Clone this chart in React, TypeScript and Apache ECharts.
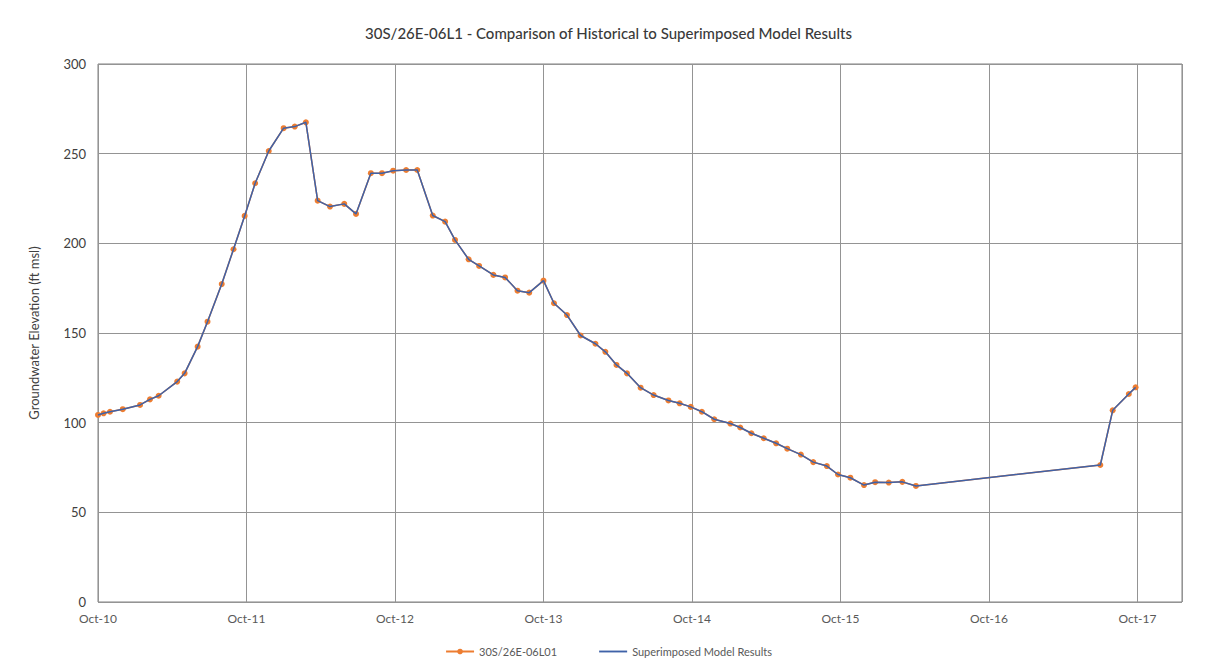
import React, { useEffect, useRef } from "react";
import * as echarts from "echarts";

// months since Oct-2010
const monthOffsets = [
  0, 0.45, 0.97, 2.0, 3.4, 4.2, 4.9, 6.4, 7.0, 8.05, 8.85, 10.0, 10.95, 11.85, 12.7, 13.8, 15.0, 15.9, 16.8,
  17.75, 18.75, 19.9, 20.85, 22.05, 22.95, 23.85, 24.9, 25.8, 27.05, 28.05, 28.85, 29.95, 30.8, 31.95, 32.9,
  33.9, 34.85, 36.0, 36.85, 37.9, 39.0, 40.2, 41.0, 41.9, 42.75, 43.85, 44.9, 46.1, 47.0, 47.9, 48.8, 49.8,
  51.1, 51.9, 52.8, 53.8, 54.8, 55.7, 56.8, 57.8, 58.9, 59.8, 60.8, 61.9, 62.8, 63.9, 65.0, 66.1, 81.0, 82.0,
  83.3, 83.85,
];

const historicalValues = [
  104.3, 105.2, 106.1, 107.5, 109.9, 113, 115, 122.9, 127.5, 142.4, 156.3, 177.3, 196.7, 215.3, 233.5, 251.5,
  264.2, 265.1, 267.5, 223.8, 220.5, 222, 216.4, 239.1, 239.1, 240.5, 240.9, 240.9, 215.5, 212.1, 201.9, 191.1,
  187.4, 182.4, 181, 173.6, 172.5, 179.2, 166.6, 160, 148.6, 144, 139.5, 132.2, 127.5, 119.5, 115.4, 112.4,
  110.8, 108.8, 106.1, 101.9, 99.5, 97.3, 94.1, 91.3, 88.5, 85.5, 82.2, 78, 75.8, 71.1, 69.3, 65.2, 66.8, 66.6,
  67, 64.7, 76.4, 106.9, 116, 119.7,
];

const modelValues = [
  104.3, 105.2, 106.1, 107.5, 109.9, 113, 115, 122.9, 127.5, 142.4, 156.3, 177.3, 196.7, 215.3, 233.5, 251.5,
  264.2, 265.1, 267.5, 223.8, 220.5, 222, 216.4, 239.1, 239.1, 240.5, 240.9, 240.9, 215.5, 212.1, 201.9, 191.1,
  187.4, 182.4, 181, 173.6, 172.5, 179.2, 166.6, 160, 148.6, 144, 139.5, 132.2, 127.5, 119.5, 115.4, 112.4,
  110.8, 108.8, 106.1, 101.9, 99.5, 97.3, 94.1, 91.3, 88.5, 85.5, 82.2, 78, 75.8, 71.1, 69.3, 65.2, 66.8, 66.6,
  67, 64.7, 76.4, 106.9, 116, 119.7,
];

const xTickLabels = ["Oct-10", "Oct-11", "Oct-12", "Oct-13", "Oct-14", "Oct-15", "Oct-16", "Oct-17"];

const FONT = "Lato, 'Noto Sans', sans-serif";

export default function App() {
  const ref = useRef<HTMLDivElement>(null);
  useEffect(() => {
    if (!ref.current) return;
    const chart = echarts.init(ref.current, null, { renderer: "svg" });
    const hist = monthOffsets.map((m, i) => [m, historicalValues[i]]);
    const model = monthOffsets.map((m, i) => [m, modelValues[i]]);
    chart.setOption({
      animation: false,
      backgroundColor: "#ffffff",
      textStyle: { fontFamily: FONT },
      title: {
        text: "30S/26E-06L1 - Comparison of Historical to Superimposed Model Results",
        left: "center",
        top: 20,
        textStyle: { fontFamily: FONT, fontSize: 15, fontWeight: 500, color: "#3a3a3a" },
      },
      graphic: [
        {
          type: "rect",
          shape: { x: 3.5, y: 5.5, width: 1210, height: 661 },
          style: { fill: "none", stroke: "#d9d9d9", lineWidth: 1 },
          silent: true,
        },
      ],
      legend: {
        bottom: 9,
        left: "center",
        itemWidth: 28,
        itemHeight: 7,
        itemGap: 42,
        textStyle: { fontFamily: FONT, fontSize: 11, color: "#595959" },
        data: [
          { name: "30S/26E-06L01" },
          { name: "Superimposed Model Results", icon: "path://M0,0 L30,0 L30,2 L0,2 Z" },
        ],
      },
      grid: {
        left: 98,
        right: 35,
        top: 64,
        bottom: 69,
        show: true,
        borderColor: "#808080",
        borderWidth: 1,
      },
      xAxis: {
        type: "value",
        min: 0,
        max: 87.6,
        interval: 12,
        axisLine: { show: false },
        axisTick: { show: false },
        splitLine: { show: true, lineStyle: { color: "#949494", width: 1 } },
        axisLabel: {
          fontFamily: FONT,
          fontSize: 12,
          color: "#595959",
          margin: 10,
          showMaxLabel: false,
          formatter: (v: number) => {
            const idx = Math.round(v / 12);
            return Math.abs(v - idx * 12) < 1e-6 && xTickLabels[idx] ? xTickLabels[idx] : "";
          },
        },
      },
      yAxis: {
        type: "value",
        min: 0,
        max: 300,
        interval: 50,
        name: "Groundwater Elevation (ft msl)",
        nameLocation: "middle",
        nameGap: 58,
        nameRotate: 90,
        nameTextStyle: { fontFamily: FONT, fontSize: 13, color: "#404040" },
        axisLine: { show: false },
        axisTick: { show: false },
        splitLine: { show: true, lineStyle: { color: "#949494", width: 1 } },
        axisLabel: { fontFamily: FONT, fontSize: 13, color: "#404040", margin: 12 },
      },
      series: [
        {
          name: "30S/26E-06L01",
          type: "line",
          data: hist,
          symbol: "circle",
          symbolSize: 6,
          itemStyle: { color: "#ED7D31" },
          lineStyle: { color: "#ED7D31", width: 1.5 },
          z: 2,
        },
        {
          name: "Superimposed Model Results",
          type: "line",
          data: model,
          symbol: "none",
          itemStyle: { color: "#3f62a8" },
          lineStyle: { color: "#3f62a8", width: 1.5 },
          z: 3,
        },
      ],
    });
    return () => chart.dispose();
  }, []);
  return <div ref={ref} style={{ width: 1217, height: 671, margin: -8 }} />;
}
